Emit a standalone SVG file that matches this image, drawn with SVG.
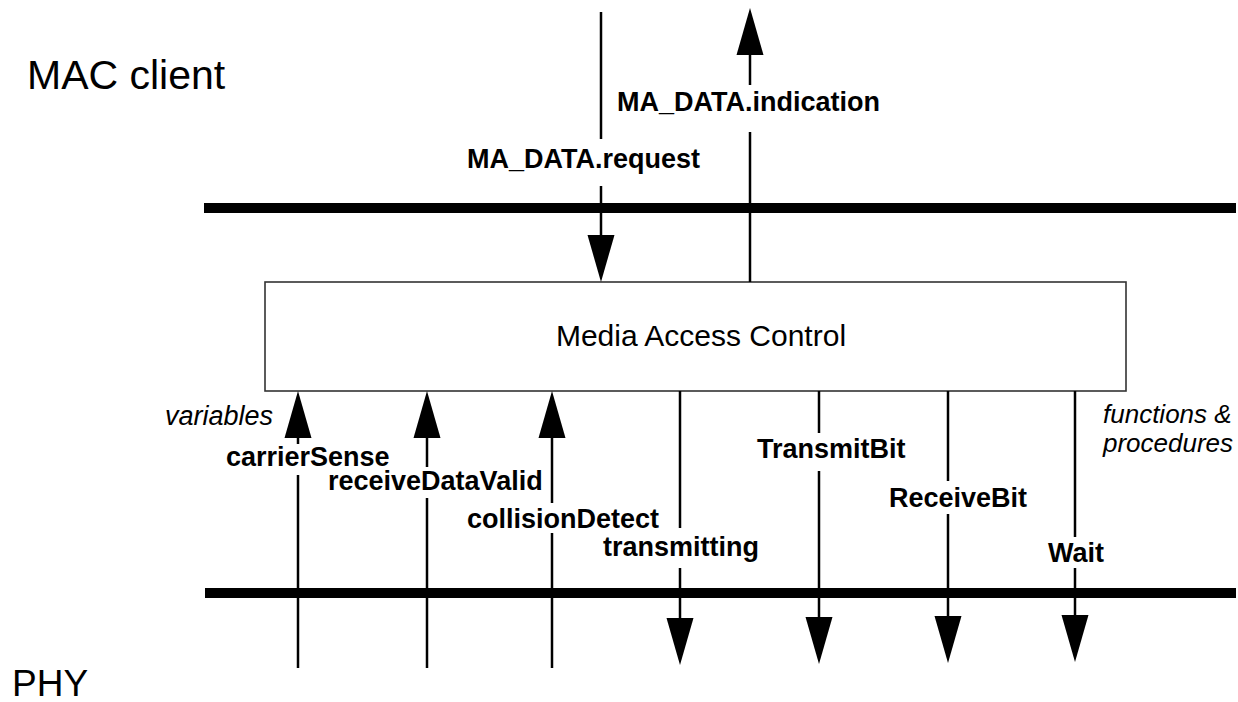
<svg xmlns="http://www.w3.org/2000/svg" width="1238" height="702" viewBox="0 0 1238 702">
<style>
.bar{stroke:#000;stroke-width:10;fill:none}
.ln{stroke:#000;stroke-width:2.5;fill:none}
.lbl{font-family:"Liberation Sans",Arial,sans-serif;font-weight:bold;font-size:27px;fill:#000}
.it{font-family:"Liberation Sans",Arial,sans-serif;font-style:italic;font-size:26px;fill:#000}
.big{font-family:"Liberation Sans",Arial,sans-serif;font-size:41px;fill:#000}
.box{fill:#fff;stroke:#333;stroke-width:1.6}
</style>
<defs>
<path id="ahd" d="M-13.5,-47 L13.5,-47 L0,0 Z" fill="#000"/>
<path id="ahu" d="M-13.5,47 L13.5,47 L0,0 Z" fill="#000"/>
</defs>
<rect width="1238" height="702" fill="#fff"/>
<g id="layers">
<text class="big" x="27" y="89">MAC client</text>
<text class="big" x="12" y="696" style="font-size:37px">PHY</text>
<line class="bar" x1="204" y1="208" x2="1236" y2="208"/>
<line class="bar" x1="205" y1="593" x2="1236" y2="593"/>
</g>
<g id="mac">
<rect class="box" x="265" y="282" width="861" height="109"/>
<text x="701" y="346" text-anchor="middle" style="font-family:'Liberation Sans',Arial,sans-serif;font-size:30px">Media Access Control</text>
</g>
<g id="connectors">
<g id="ma-request">
<line class="ln" x1="601" y1="12" x2="601" y2="139"/>
<line class="ln" x1="601" y1="186" x2="601" y2="236"/>
<use href="#ahd" x="601" y="282"/>
</g>
<g id="ma-indication">
<use href="#ahu" x="750" y="8"/>
<line class="ln" x1="750" y1="52" x2="750" y2="85"/>
<line class="ln" x1="750" y1="132" x2="750" y2="282"/>
</g>
<g id="carrierSense">
<use href="#ahu" x="298" y="391"/>
<line class="ln" x1="298" y1="435" x2="298" y2="444"/>
<line class="ln" x1="298" y1="475" x2="298" y2="668"/>
</g>
<g id="receiveDataValid">
<use href="#ahu" x="427" y="391"/>
<line class="ln" x1="427" y1="435" x2="427" y2="467"/>
<line class="ln" x1="427" y1="498" x2="427" y2="668"/>
</g>
<g id="collisionDetect">
<use href="#ahu" x="552" y="391"/>
<line class="ln" x1="552" y1="435" x2="552" y2="503"/>
<line class="ln" x1="552" y1="533" x2="552" y2="668"/>
</g>
<g id="transmitting">
<line class="ln" x1="680" y1="391" x2="680" y2="528"/>
<line class="ln" x1="680" y1="568" x2="680" y2="622"/>
<use href="#ahd" x="680" y="665"/>
</g>
<g id="TransmitBit">
<line class="ln" x1="819" y1="391" x2="819" y2="433"/>
<line class="ln" x1="819" y1="471" x2="819" y2="622"/>
<use href="#ahd" x="819" y="664"/>
</g>
<g id="ReceiveBit">
<line class="ln" x1="948" y1="391" x2="948" y2="481"/>
<line class="ln" x1="948" y1="514" x2="948" y2="622"/>
<use href="#ahd" x="948" y="663"/>
</g>
<g id="Wait">
<line class="ln" x1="1075" y1="391" x2="1075" y2="537"/>
<line class="ln" x1="1075" y1="568" x2="1075" y2="622"/>
<use href="#ahd" x="1075" y="662"/>
</g>
</g>
<g id="labels">
<text class="lbl" x="617" y="111">MA_DATA.indication</text>
<text class="lbl" x="467" y="168">MA_DATA.request</text>
<text class="it" x="165" y="425" style="font-size:27px">variables</text>
<text class="lbl" x="226" y="466">carrierSense</text>
<text class="lbl" x="328" y="490">receiveDataValid</text>
<text class="lbl" x="467" y="528">collisionDetect</text>
<text class="lbl" x="603" y="556">transmitting</text>
<text class="lbl" x="757" y="458">TransmitBit</text>
<text class="lbl" x="889" y="507">ReceiveBit</text>
<text class="lbl" x="1048" y="562">Wait</text>
<text class="it" x="1103" y="423">functions &amp;</text>
<text class="it" x="1103" y="452">procedures</text>
</g>
</svg>
